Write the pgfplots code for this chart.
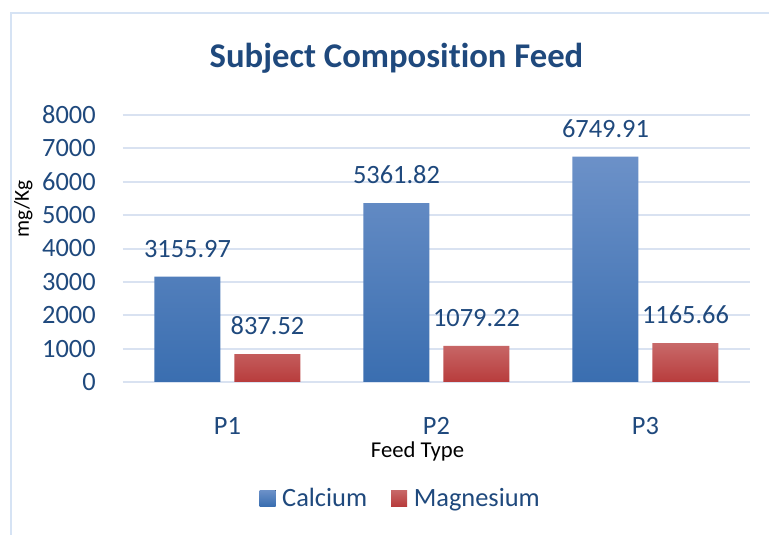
\documentclass[border=0pt]{standalone}
\usepackage{fontspec}
\setmainfont{Carlito}[Ligatures=NoCommon]
\usepackage{pgfplots}
\pgfplotsset{compat=1.18}
\usepackage{pgfplotstable}
\definecolor{txt}{RGB}{31,73,125}
\definecolor{gridc}{RGB}{217,226,241}
\definecolor{borderc}{RGB}{214,227,244}
\definecolor{caltop}{RGB}{108,145,200}
\definecolor{calbot}{RGB}{58,110,176}
\definecolor{magtop}{RGB}{200,105,105}
\definecolor{magbot}{RGB}{184,60,60}

\pgfplotstableread{
x y label
0 3155.97 3155.97
1 5361.82 5361.82
2 6749.91 6749.91
}\calcium
\pgfplotstableread{
x y label
0 837.52 837.52
1 1079.22 1079.22
2 1165.66 1165.66
}\magnesium

\begin{document}
\begin{tikzpicture}
\useasboundingbox (-92.25pt,-114.75pt) rectangle (484.5pt,286.5pt);
\fill[white] (-92.25pt,-114.75pt) rectangle (484.5pt,286.5pt);
\draw[borderc, line width=1.5pt] (-84pt,-114.75pt) -- (-84pt,276.75pt) -- (484.5pt,276.75pt);
\begin{axis}[
  at={(0,0)}, anchor=south west, scale only axis,
  width=470.25pt, height=200.25pt,
  xmin=-0.5, xmax=2.5, ymin=0, ymax=8000,
  ytick={0,1000,...,8000},
  xtick={0,1,2}, xticklabels={P1,P2,P3},
  scaled y ticks=false,
  /pgf/number format/1000 sep={},
  /pgf/number format/assume math mode=true,
  ymajorgrids, grid style={gridc, line width=1.5pt},
  axis line style={draw=none}, tick style={draw=none},
  ticklabel style={font=\fontsize{19.8}{21}\selectfont, text=txt, inner sep=0pt},
  yticklabel style={anchor=east, xshift=-20.25pt},
  xticklabel style={anchor=base, yshift=-35pt},
  ybar, bar width=49.5pt,
  nodes near coords, point meta=explicit symbolic,
  every node near coord/.append style={font=\fontsize{19.8}{21}\selectfont, text=txt, inner sep=0pt, anchor=south, yshift=14pt},
  legend columns=2,
  legend style={at={(rel axis cs:0.4434,-0.4345)}, anchor=center, draw=none, fill=none,
    font=\fontsize{19.8}{21}\selectfont, text=txt,
    /tikz/every even column/.append style={column sep=16pt}},
  legend image code/.code={\fill[#1] (0pt,-6pt) rectangle (12pt,6pt); \path (0pt,0pt) -- (15pt,0pt);},
]
\addplot[draw=none, top color=caltop, bottom color=calbot, bar shift=-30pt] table[x=x,y=y,meta=label]{\calcium};
\addlegendentry{Calcium}
\addplot[draw=none, top color=magtop, bottom color=magbot, bar shift=30pt] table[x=x,y=y,meta=label]{\magnesium};
\addlegendentry{Magnesium}
\end{axis}
\node[anchor=base, font=\bfseries\fontsize{26}{28}\selectfont, text=txt, inner sep=0pt] at (205.1pt,235.5pt) {Subject Composition Feed};
\node[anchor=base, rotate=90, font=\fontsize{16}{18}\selectfont, inner sep=0pt] at (-70.5pt,129.75pt) {mg/Kg};
\node[anchor=base, font=\fontsize{17}{19}\selectfont, inner sep=0pt] at (220.9pt,-56.5pt) {Feed Type};
\end{tikzpicture}
\end{document}
